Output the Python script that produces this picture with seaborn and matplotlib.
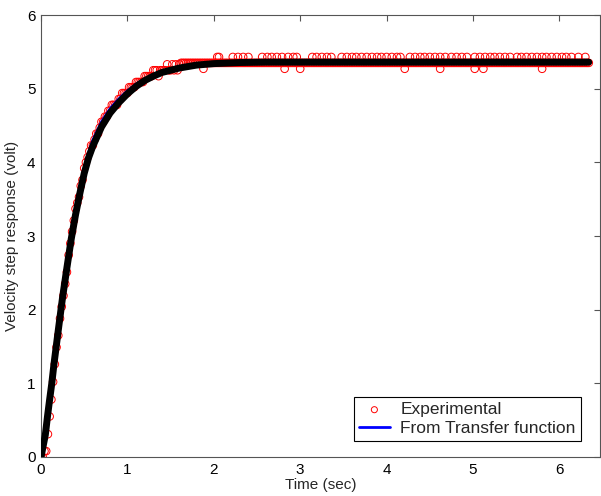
import numpy as np
import pandas as pd
import matplotlib
matplotlib.use("Agg")
import matplotlib.pyplot as plt
import seaborn as sns

# ---------------- data ----------------
# Experimental samples during the rise (sampled every 0.02 s from 0 to 1.60 s)
rise_t = [round(0.02 * i, 2) for i in range(81)]
rise_v = [0.00, 0.00, 0.08, 0.08, 0.31, 0.55, 0.78, 1.02, 1.26, 1.49,
          1.65, 1.88, 2.04, 2.19, 2.35, 2.51, 2.74, 2.90, 3.06, 3.21,
          3.37, 3.45, 3.53, 3.68, 3.76, 3.92, 4.00, 4.07, 4.15, 4.23,
          4.23, 4.31, 4.39, 4.39, 4.47, 4.55, 4.55, 4.62, 4.62, 4.70,
          4.70, 4.78, 4.78, 4.78, 4.78, 4.86, 4.86, 4.94, 4.94, 4.94,
          4.94, 5.02, 5.02, 5.02, 5.02, 5.09, 5.09, 5.09, 5.09, 5.09,
          5.17, 5.17, 5.17, 5.17, 5.17, 5.25, 5.25, 5.25, 5.17, 5.25,
          5.25, 5.25, 5.25, 5.33, 5.25, 5.25, 5.33, 5.25, 5.33, 5.25,
          5.33]

# Experimental steady-state samples (0.02 s spacing, 1.62 s .. 6.34 s)
plateau_t = [round(1.62 + 0.02 * i, 2) for i in range(237)]
plateau_level = 5.35
# samples one quantisation step above / below the steady-state level
upper_level = 5.43
upper_t = [2.04, 2.06, 2.22, 2.28, 2.34, 2.40, 2.56, 2.62, 2.67, 2.73, 2.79, 2.86,
           2.92, 2.96, 3.14, 3.19, 3.25, 3.31, 3.36, 3.48, 3.54, 3.60, 3.65,
           3.71, 3.77, 3.83, 3.89, 3.94, 4.00, 4.06, 4.12, 4.16, 4.27, 4.33,
           4.39, 4.44, 4.50, 4.56, 4.62, 4.68, 4.75, 4.81, 4.87, 4.93, 5.02,
           5.08, 5.14, 5.20, 5.25, 5.31, 5.37, 5.43, 5.51, 5.56, 5.62, 5.68,
           5.74, 5.80, 5.85, 5.91, 5.97, 6.03, 6.08, 6.14, 6.22, 6.30]
lower_level = 5.27
lower_t = [1.88, 2.82, 3.00, 4.21, 4.62, 5.02, 5.12, 5.80]

# Fitted model (thick black curve)
model_t = [0, 0.05, 0.075, 0.1, 0.125, 0.15, 0.2, 0.25, 0.3, 0.35, 0.4, 0.45,
           0.5, 0.55, 0.6, 0.7, 0.8, 0.9, 1.0, 1.1, 1.2, 1.3, 1.4, 1.6, 1.8,
           2.0, 2.3, 2.6, 3.0, 6.34]
model_v = [0, 0.30, 0.55, 0.78, 1.00, 1.26, 1.72, 2.17, 2.57, 2.96, 3.29, 3.58,
           3.85, 4.06, 4.22, 4.48, 4.67, 4.81, 4.93, 5.03, 5.11, 5.17, 5.22,
           5.28, 5.32, 5.34, 5.355, 5.36, 5.36, 5.36]

# From transfer function (blue curve)
tf_t = [0, 0.05, 0.1, 0.15, 0.2, 0.25, 0.3, 0.35, 0.4, 0.45, 0.5, 0.55, 0.6,
        0.7, 0.8, 0.9, 1.0, 1.1, 1.2, 1.3, 1.4, 1.6, 1.8, 2.0, 2.3, 2.6, 3.0, 6.34]
tf_v = [0, 0.30, 0.78, 1.26, 1.72, 2.17, 2.57, 3.00, 3.38, 3.67, 3.92, 4.13,
        4.30, 4.55, 4.73, 4.86, 4.97, 5.06, 5.13, 5.19, 5.23, 5.29, 5.32, 5.34,
        5.355, 5.36, 5.36, 5.37]

# ---------------- assemble ----------------
exp_df = pd.DataFrame({
    "t": list(rise_t) + list(plateau_t) + list(upper_t) + list(lower_t),
    "v": list(rise_v) + [plateau_level] * len(plateau_t)
         + [upper_level] * len(upper_t) + [lower_level] * len(lower_t),
})
model_df = pd.DataFrame({"t": model_t, "v": model_v})
tf_df = pd.DataFrame({"t": tf_t, "v": tf_v})

sns.set_style("white")
plt.rcParams["font.family"] = ["Liberation Sans", "DejaVu Sans"]

fig = plt.figure(figsize=(6.01, 4.96), dpi=100)
ax = fig.add_axes([41 / 601, 1 - 457 / 496, 559 / 601, 442 / 496])

sns.scatterplot(data=exp_df, x="t", y="v", ax=ax, marker="o", s=30,
                facecolors="none", edgecolor="red", linewidth=0.7,
                label="Experimental", zorder=2)
sns.lineplot(data=tf_df, x="t", y="v", ax=ax, color="blue", linewidth=2.0,
             label="From Transfer function", zorder=3, sort=False)
sns.lineplot(data=model_df, x="t", y="v", ax=ax, color="black", linewidth=5.0,
             zorder=4, sort=False, legend=False)

ax.set_xlim(0, 6.47)
ax.set_ylim(0, 6)
ax.set_xticks(range(0, 7))
ax.set_yticks(range(0, 7))
ax.set_xlabel("Time (sec)", fontsize=11, labelpad=1)
ax.set_ylabel("Velocity step response (volt)", fontsize=11, labelpad=6)
ax.tick_params(direction="in", length=4, width=0.8, color="#555555",
               labelsize=11, top=True, right=True, pad=4,
               labelcolor="black")
for sp in ax.spines.values():
    sp.set_visible(True)
    sp.set_color("#555555")
    sp.set_linewidth(0.8)

handles, labels = ax.get_legend_handles_labels()
leg = ax.legend(handles[:2], labels[:2], loc="lower right",
                bbox_to_anchor=(0.966, 0.036), borderaxespad=0,
                fontsize=12.5, frameon=True, fancybox=False, framealpha=1,
                edgecolor="black", handlelength=1.8, borderpad=0.3,
                labelspacing=0.2, handletextpad=0.6, markerscale=0.8)
leg.get_frame().set_linewidth(0.8)

fig.savefig("out.png", dpi=100)
